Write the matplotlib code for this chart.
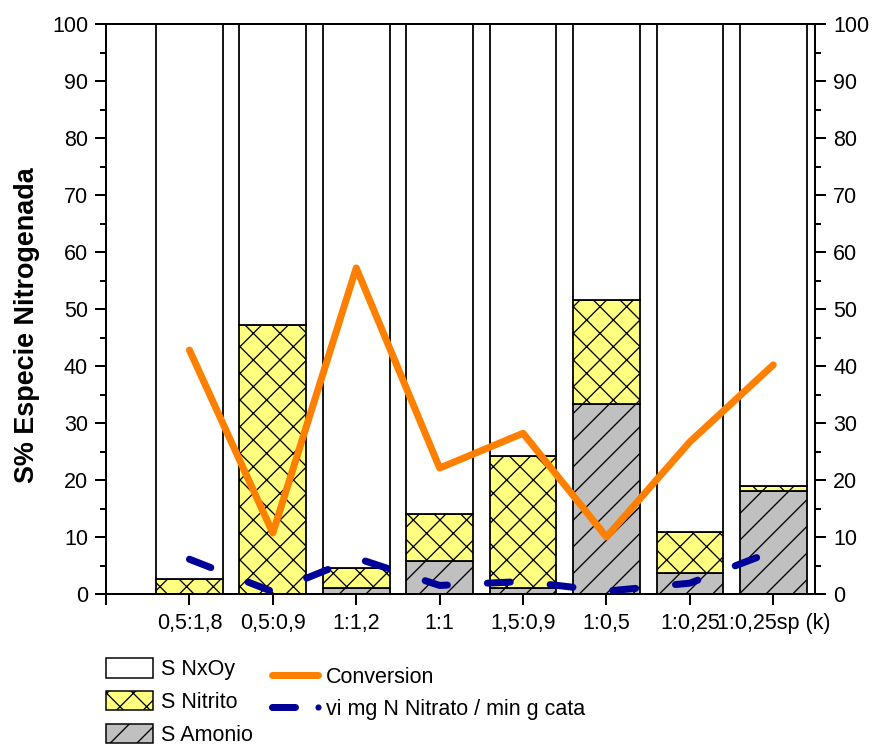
import matplotlib
matplotlib.use("Agg")
import matplotlib.pyplot as plt
from matplotlib.lines import Line2D
from matplotlib.patches import Patch
import numpy as np

# ---------------- data ----------------
categories = ["0,5:1,8", "0,5:0,9", "1:1,2", "1:1", "1,5:0,9", "1:0,5", "1:0,25", "1:0,25sp (k)"]
s_amonio = [0.0, 0.0, 1.0, 5.8, 1.1, 33.3, 3.7, 18.1]
s_nitrito = [2.6, 47.2, 3.6, 8.2, 23.1, 18.2, 7.1, 0.8]
s_nxoy = [97.4, 52.8, 95.4, 86.0, 75.8, 48.5, 89.2, 81.1]
conversion = [42.8, 10.7, 57.2, 22.1, 28.2, 10.0, 26.7, 40.2]
vi_nitrato = [6.1, 0.4, 6.3, 1.5, 2.2, 0.5, 1.9, 7.5]

# ---------------- style ----------------
DPI = 80
def px(v):
    return v * 72.0 / DPI

plt.rcParams['font.family'] = ['Liberation Sans', 'DejaVu Sans']
plt.rcParams['hatch.linewidth'] = px(1.3)

fig = plt.figure(figsize=(874 / DPI, 746 / DPI), dpi=DPI)
ax = fig.add_axes([106 / 874, 1 - 594 / 746, (815 - 106) / 874, (594 - 24) / 746])

x = np.arange(1, len(categories) + 1)
w = 0.8
am = np.array(s_amonio)
ni = np.array(s_nitrito)
nx = np.array(s_nxoy)

bar_lw = px(1.8)
ax.bar(x, am, w, color="#C0C0C0", edgecolor="black", hatch="/", linewidth=bar_lw, zorder=2)
ax.bar(x, ni, w, bottom=am, color="#FFFF80", edgecolor="black", hatch="x", linewidth=bar_lw, zorder=2)
ax.bar(x, nx, w, bottom=am + ni, color="white", edgecolor="black", linewidth=bar_lw, zorder=2)

lw = px(7)
ax.plot(x, conversion, color="#FF8000", linewidth=lw, solid_capstyle="round",
        solid_joinstyle="round", zorder=4)
ax.plot(x, vi_nitrato, color="#000099", linewidth=lw, dashes=(23 / 7, 40 / 7),
        dash_capstyle="round", zorder=4)

ax.set_xlim(0, 8.5)
ax.set_ylim(0, 100)
ax.set_xticks(np.arange(0, 9))
ax.set_xticklabels([""] + categories)
ax.set_yticks(np.arange(0, 101, 10))
ax.set_yticks(np.arange(0, 101, 5), minor=True)

fs = px(21.5)
ax.tick_params(axis="x", which="major", direction="out", length=px(11), width=px(2),
               labelsize=fs, pad=px(8))
ax.tick_params(axis="y", which="major", direction="out", length=px(11), width=px(2),
               labelsize=fs, pad=px(7), right=True, labelright=True)
ax.tick_params(axis="y", which="minor", direction="out", length=px(6), width=px(2), right=True)
for s in ax.spines.values():
    s.set_linewidth(px(2))

ax.set_ylabel("S% Especie Nitrogenada", fontsize=px(27), fontweight="bold")
ax.yaxis.set_label_coords(-0.093, 0.471)

# ---------------- legends ----------------
bar_handles = [
    Patch(facecolor="white", edgecolor="black", linewidth=px(1.5)),
    Patch(facecolor="#FFFF80", edgecolor="black", hatch="x", linewidth=px(1.5)),
    Patch(facecolor="#C0C0C0", edgecolor="black", hatch="/", linewidth=px(1.5)),
]
leg1 = fig.legend(bar_handles, ["S NxOy", "S Nitrito", "S Amonio"],
                  loc="upper left", bbox_to_anchor=(106 / 874, 1 - 658 / 746),
                  frameon=False, fontsize=fs, handlelength=47 / 21.5,
                  handleheight=22 / 21.5, handletextpad=8 / 21.5,
                  labelspacing=0.5, borderpad=0, borderaxespad=0)

line_handles = [
    Line2D([], [], color="#FF8000", linewidth=lw, solid_capstyle="round"),
    Line2D([], [], color="#000099", linewidth=lw, dashes=(23 / 7, 40 / 7),
           dash_capstyle="round", marker="o", markersize=px(5), markevery=[1]),
]
leg2 = fig.legend(line_handles, ["Conversion", "vi mg N Nitrato / min g cata"],
                  loc="upper left", bbox_to_anchor=(266 / 874, 1 - 667 / 746),
                  frameon=False, fontsize=fs, handlelength=58 / 21.5, numpoints=2,
                  handletextpad=2 / 21.5, labelspacing=0.5, borderpad=0, borderaxespad=0)

fig.savefig("out.png", dpi=DPI)
